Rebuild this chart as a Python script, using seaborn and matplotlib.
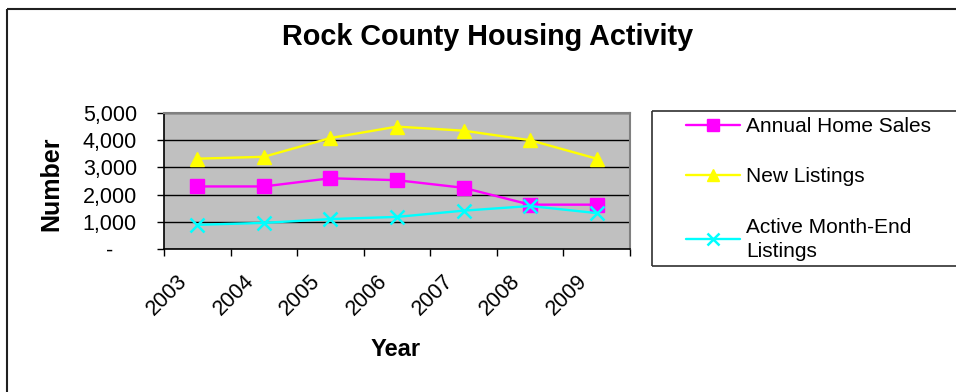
import matplotlib
matplotlib.use("Agg")
import matplotlib.pyplot as plt
import matplotlib.transforms as mtransforms
from matplotlib.lines import Line2D
from matplotlib.ticker import FixedLocator, FuncFormatter
import numpy as np
import pandas as pd
import seaborn as sns

# Rock County housing figures, 2003-2009
years = ["2003", "2004", "2005", "2006", "2007", "2008", "2009"]
annual_home_sales = [2300, 2300, 2600, 2530, 2250, 1630, 1630]
new_listings = [3320, 3390, 4080, 4500, 4350, 4000, 3320]
active_month_end = [890, 960, 1100, 1180, 1410, 1580, 1320]
series_labels = ["Annual Home Sales", "New Listings", "Active Month-End\nListings"]
y_ticks = [0, 1000, 2000, 3000, 4000, 5000]

W, H = 956, 392
DPI = 100

sns.set_theme(style="white")
plt.rcParams["font.family"] = ["Liberation Sans", "DejaVu Sans"]
plt.rcParams["text.color"] = "black"
plt.rcParams["axes.labelcolor"] = "black"
plt.rcParams["xtick.color"] = "black"
plt.rcParams["ytick.color"] = "black"

fig = plt.figure(figsize=(W / DPI, H / DPI), dpi=DPI)
fig.patch.set_facecolor("white")


def fx(px):
    return px / W


def fy(py):
    return 1 - py / H


def fig_line(xs, ys, color="#202020", lw=1.5):
    fig.add_artist(Line2D([fx(x) for x in xs], [fy(y) for y in ys],
                          color=color, lw=lw, solid_capstyle="butt",
                          transform=fig.transFigure))


# plot area in pixel bounds
left, right, top, bottom = 164, 630, 113, 249
ax = fig.add_axes([fx(left), fy(bottom), fx(right - left), (bottom - top) / H])
ax.set_facecolor("#C0C0C0")

pos = np.arange(len(years))
styles = [
    (annual_home_sales, "#FF00FF", "s", 10, 1.0),
    (new_listings, "#FFFF00", "^", 10, 1.0),
    (active_month_end, "#00FFFF", "x", 10, 1.8),
]
handles = []
for (values, color, marker, ms, mew), label in zip(styles, series_labels):
    df = pd.DataFrame({"pos": pos, "value": values})
    sns.lineplot(data=df, x="pos", y="value", ax=ax, color=color, lw=1.7,
                 marker=marker, markersize=ms, markeredgecolor=color,
                 markeredgewidth=mew, legend=False, zorder=3)
    handles.append(Line2D([], [], color=color, lw=1.7, marker=marker,
                          markersize=ms - 1, markeredgecolor=color,
                          markeredgewidth=mew, label=label))

ax.set_xlim(-0.5, len(years) - 0.5)
ax.set_ylim(0, 5000)

# y axis: accounting style labels
ax.yaxis.set_major_locator(FixedLocator(y_ticks))
ax.yaxis.set_major_formatter(FuncFormatter(
    lambda v, p: "-\u2007\u2007" if v == 0 else f"{int(v):,}"))
ax.tick_params(axis="y", which="major", direction="out", length=5, width=1,
               color="black", pad=14.5, labelsize=15.5, left=True,
               labelcolor="black")
ax.grid(axis="y", color="black", lw=1)
ax.grid(axis="x", visible=False)

# x axis: tick marks between categories, labels on categories
ax.set_xticks(pos)
ax.set_xticklabels(years)
ax.set_xticks(np.arange(-0.5, len(years), 1.0), minor=True)
ax.tick_params(axis="x", which="major", length=0, pad=21, labelsize=15.5,
               labelcolor="black")
ax.tick_params(axis="x", which="minor", direction="out", length=5, width=1,
               color="black", bottom=True)
shift = mtransforms.ScaledTranslation(-13 / DPI, 0, fig.dpi_scale_trans)
for lab in ax.get_xticklabels():
    lab.set_rotation(45)
    lab.set_ha("right")
    lab.set_va("center")
    lab.set_rotation_mode("anchor")
    lab.set_transform(lab.get_transform() + shift)

for side in ["left", "bottom"]:
    ax.spines[side].set_color("black")
    ax.spines[side].set_linewidth(1.2)
for side in ["top", "right"]:
    ax.spines[side].set_color("#808080")
    ax.spines[side].set_linewidth(1.5)

ax.set_xlabel("Year", fontsize=17, fontweight="bold", color="black")
ax.set_ylabel("Number", fontsize=18, fontweight="bold", color="black")
ax.xaxis.set_label_coords((396 - left) / (right - left), (bottom - 338) / (bottom - top))
ax.yaxis.set_label_coords((63 - left) / (right - left), (bottom - 184) / (bottom - top))

# chart title
fig.text(fx(488), fy(45), "Rock County Housing Activity", ha="center",
         va="baseline", fontsize=20.7, fontweight="bold", color="black")

# legend box (open on the right edge) and entries
fig_line([652, W - 0.5], [111, 111], color="#303030", lw=1.2)
fig_line([652, W - 0.5], [266, 266], color="#303030", lw=1.2)
fig_line([652, 652], [111, 266], color="#303030", lw=1.2)
leg = fig.legend(handles=handles, loc="upper left",
                 bbox_to_anchor=(fx(686), fy(117)), frameon=False,
                 fontsize=15, handlelength=2.6, handletextpad=0.3,
                 labelspacing=1.5, borderpad=0, borderaxespad=0,
                 labelcolor="black")
for t in leg.get_texts():
    t.set_linespacing(1.35)

# outer chart border (top and left edges)
fig_line([7, W - 0.5], [9, 9])
fig_line([7, 7], [9, H - 0.5])

fig.savefig("out.png", dpi=DPI)
